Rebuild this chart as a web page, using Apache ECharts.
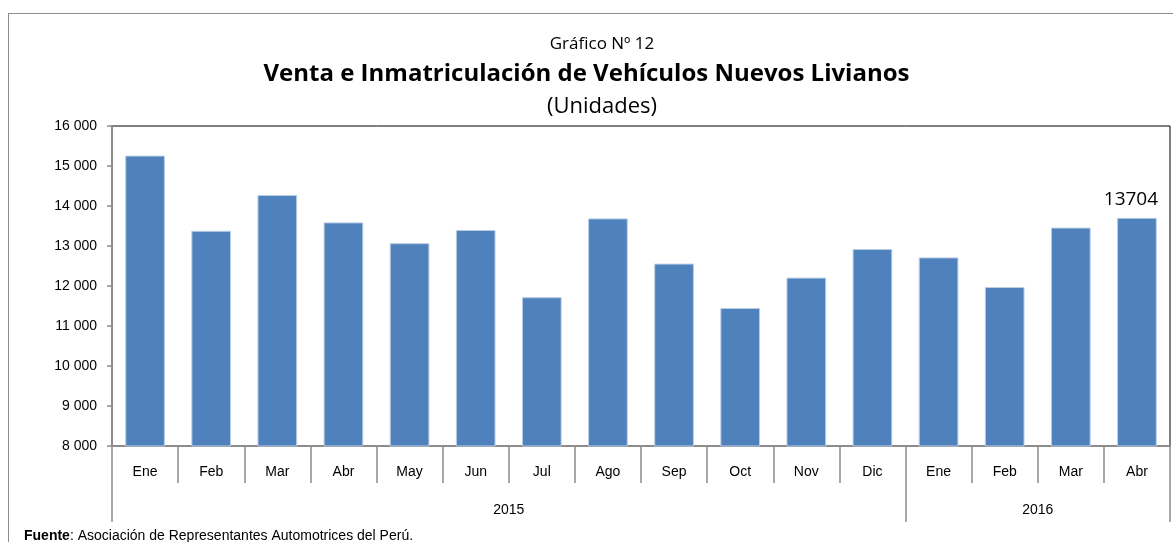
<!DOCTYPE html>
<html>
<head>
<meta charset="utf-8">
<script src="https://cdn.jsdelivr.net/npm/echarts@6/dist/echarts.min.js"></script>
<style>
  html, body { margin: 0; padding: 0; background: #fff; overflow: hidden; }
  #frame { position: absolute; left: 8px; top: 13px; width: 1200px; height: 600px; border: 1px solid #8c8c8c; }
  #chart { position: absolute; left: 0; top: 0; width: 1173px; height: 542px; }
</style>
</head>
<body>
<div id="frame"></div>
<div id="chart"></div>
<script>
// datos
const months = ['Ene', 'Feb', 'Mar', 'Abr', 'May', 'Jun', 'Jul', 'Ago', 'Sep', 'Oct', 'Nov', 'Dic', 'Ene', 'Feb', 'Mar', 'Abr'];
const units = [15260, 13380, 14275, 13590, 13070, 13400, 11720, 13690, 12560, 11450, 12210, 12925, 12715, 11975, 13460, 13704];
const years = ['2015', '2016'];
const yearBounds = [0, 12, 16];
const yearCenters = [6, 14];

const myChart = echarts.init(document.getElementById('chart'));

const axisFont = 'Liberation Sans, Arial, sans-serif';
const titleFont = 'Open Sans, Noto Sans, sans-serif';

const option = {
    animation: false,
    title: [
        { text: 'Gráfico Nº 12', left: 597, textAlign: 'center', top: 31, textStyle: { fontFamily: titleFont, fontSize: 17, fontWeight: 'normal', color: '#000' } },
        { text: 'Venta e Inmatriculación de Vehículos Nuevos Livianos', left: 'center', top: 57, textStyle: { fontFamily: titleFont, fontSize: 24, fontWeight: 'bold', color: '#000' } },
        { text: '(Unidades)', left: 597, textAlign: 'center', top: 91, textStyle: { fontFamily: titleFont, fontSize: 22, fontWeight: 'normal', color: '#000' } },
        {
            text: '{b|Fuente}: Asociación de Representantes Automotrices del Perú.',
            left: 19, top: 524,
            textStyle: {
                fontFamily: axisFont, fontSize: 14, fontWeight: 'normal', color: '#000',
                rich: { b: { fontFamily: axisFont, fontSize: 14, fontWeight: 'bold', color: '#000' } }
            }
        }
    ],
    grid: {
        left: 112,
        right: 3,
        top: 126,
        bottom: 96,
        show: true,
        borderColor: '#000',
        borderWidth: 1,
        backgroundColor: 'transparent'
    },
    xAxis: [
        {
            type: 'category',
            data: months,
            axisLine: { lineStyle: { color: '#8c8c8c', width: 2 } },
            axisTick: { show: true, interval: 0, length: 37, lineStyle: { color: '#8c8c8c', width: 1.5 } },
            axisLabel: { margin: 19, fontFamily: axisFont, fontSize: 14, color: '#000', interval: 0 }
        },
        {
            type: 'value',
            position: 'bottom',
            min: 0,
            max: 16,
            axisLine: { show: false },
            splitLine: { show: false },
            axisTick: { show: true, length: 76, customValues: yearBounds, lineStyle: { color: '#8c8c8c', width: 1.5 } },
            axisLabel: {
                margin: 57,
                customValues: yearCenters,
                fontFamily: axisFont, fontSize: 14, color: '#000',
                formatter: function (v) { return years[yearCenters.indexOf(v)] || ''; }
            }
        }
    ],
    yAxis: {
        type: 'value',
        min: 8000,
        max: 16000,
        interval: 1000,
        splitLine: { show: false },
        axisLine: { show: true, lineStyle: { color: '#8c8c8c', width: 2 } },
        axisTick: { show: true, length: 5, lineStyle: { color: '#8c8c8c', width: 1.5 } },
        axisLabel: {
            margin: 15,
            fontFamily: axisFont, fontSize: 14, color: '#000',
            formatter: function (v) { return String(v).replace(/\B(?=(\d{3})+(?!\d))/g, ' '); }
        }
    },
    series: [
        {
            type: 'bar',
            xAxisIndex: 0,
            barWidth: '60%',
            data: units.map(function (v, i) {
                if (i === units.length - 1) {
                    return { value: v, label: { show: true, position: 'top', distance: 9, offset: [-6, 0], fontFamily: titleFont, fontSize: 19, color: '#000' } };
                }
                return v;
            }),
            itemStyle: { color: '#4f81bd', borderColor: '#b9cde5', borderWidth: 1 }
        }
    ]
};

myChart.setOption(option);
</script>
</body>
</html>
